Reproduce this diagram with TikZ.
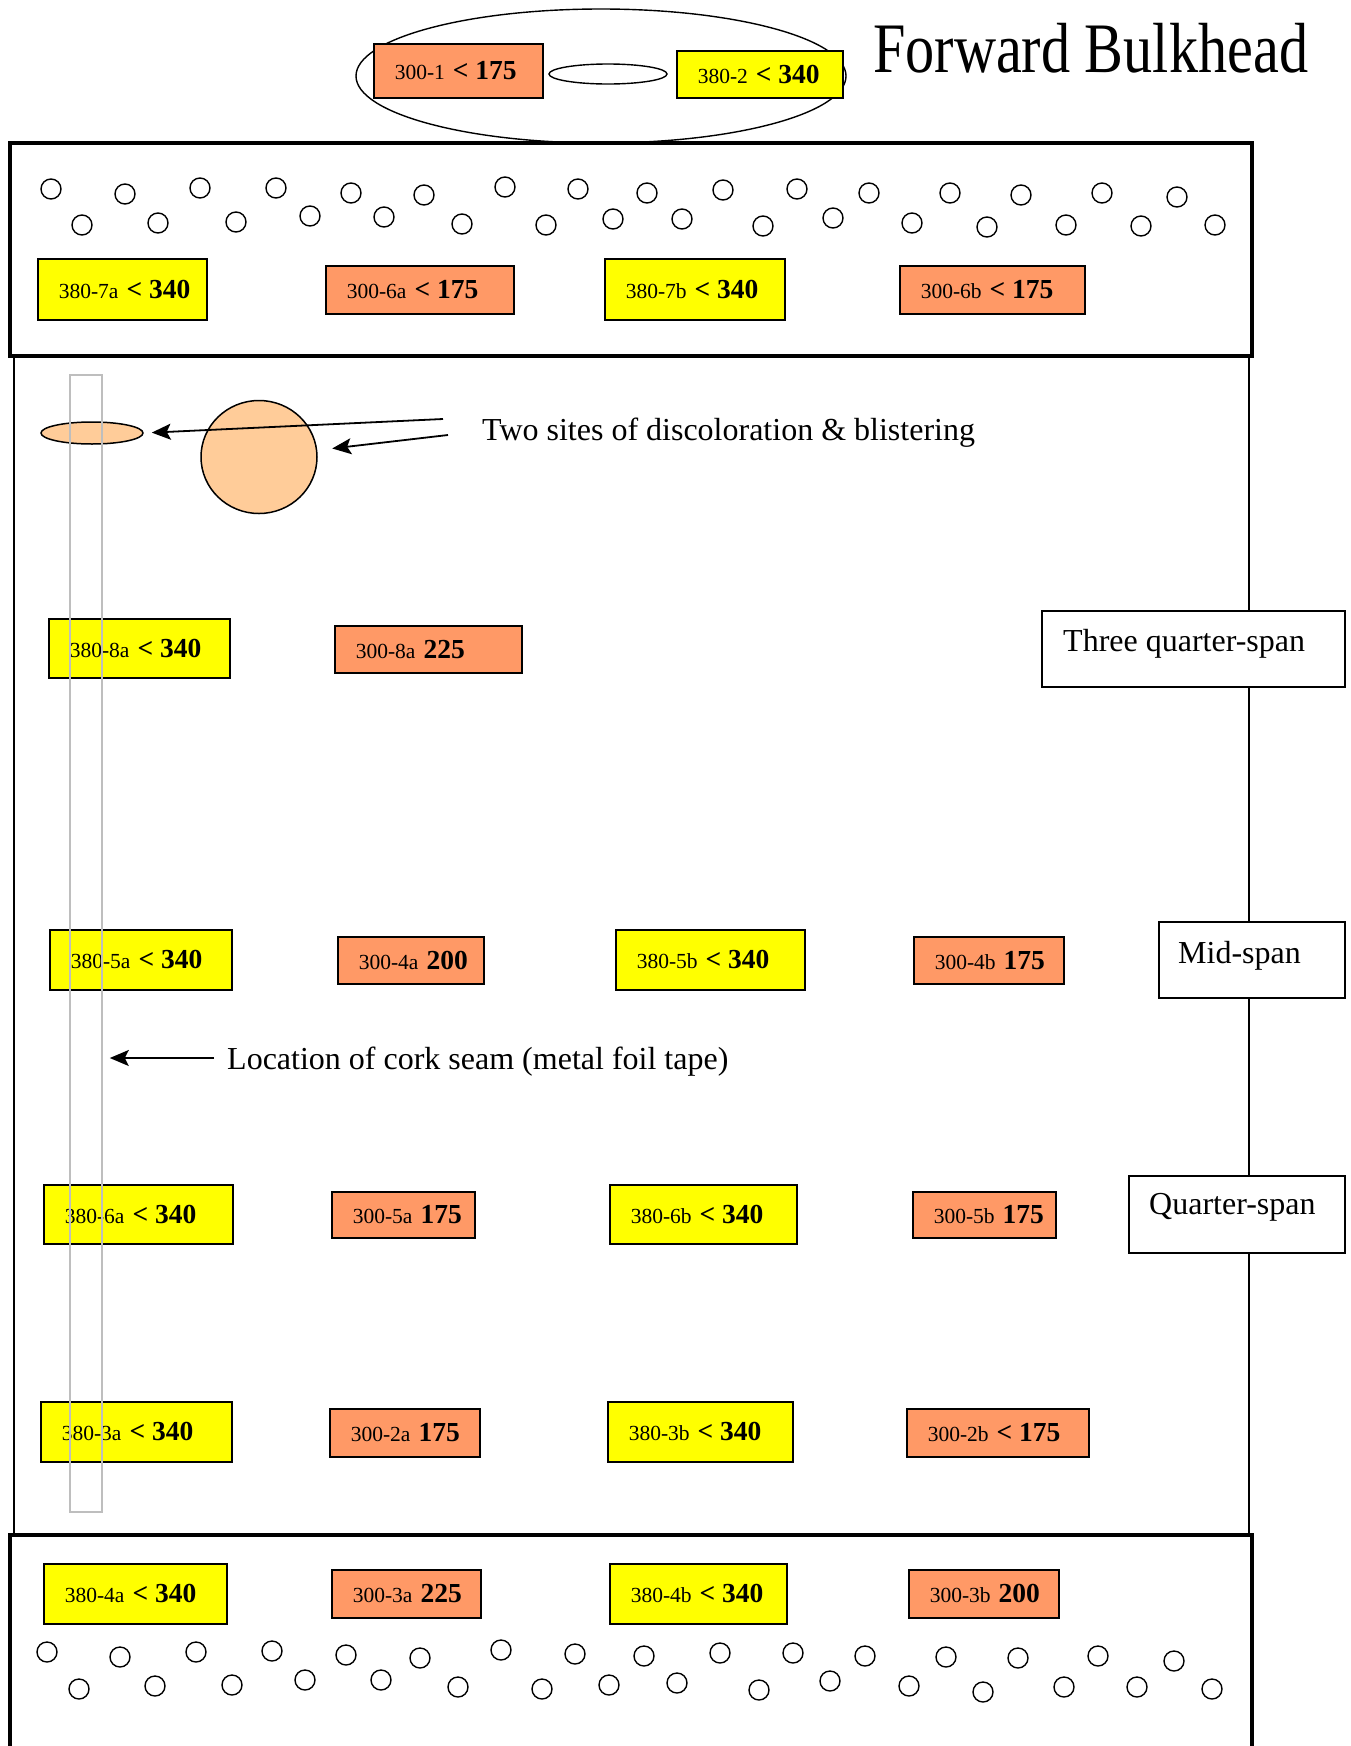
\documentclass[tikz,border=0pt]{standalone}
\usepackage{fontspec}
\setmainfont{Liberation Serif}
\newfontfamily\condserif[FakeStretch=0.82]{Liberation Serif}
\usetikzlibrary{arrows.meta,positioning,calc,shapes.geometric}
\definecolor{gauyellow}{RGB}{255,255,0}
\definecolor{gauorange}{RGB}{255,153,102}
\definecolor{blisterfill}{RGB}{255,204,153}
\definecolor{seamgray}{RGB}{190,190,190}
% gauge label: box width, station id, then reading in bold (set flush left)
\newcommand{\gauge}[3]{\makebox[#1][l]{\hspace{21pt}{\fontsize{21.5}{24}\selectfont #2}\hspace{8pt}{\fontsize{27.5}{30}\selectfont\bfseries #3}}}

\begin{document}
\begin{tikzpicture}[
  x=1pt, y=-1pt,
  gy/.style={rectangle, draw, line width=1.6pt, fill=gauyellow, inner sep=0pt, anchor=north west},
  go/.style={rectangle, draw, line width=1.6pt, fill=gauorange, inner sep=0pt, anchor=north west},
  hole/.style={circle, draw, line width=1.4pt, minimum size=20pt, inner sep=0pt},
  spanbox/.style={rectangle, draw, line width=1.5pt, fill=white, inner sep=0pt, anchor=north west},
  note/.style={font=\fontsize{32}{36}\selectfont, inner sep=0pt, anchor=base west},
  blister/.style={ellipse, draw, line width=1.5pt, fill=blisterfill, inner sep=0pt},
  frame/.style={line width=3.5pt},
  wall/.style={line width=1.8pt},
  ptr/.style={-{Stealth[length=19pt,width=16pt,inset=4pt]}, line width=1.8pt}
]
\useasboundingbox (0,0) rectangle (1351,1746);

% Forward bulkhead plate
\draw[line width=1.4pt] (601,76) ellipse [x radius=245, y radius=67];
\draw[line width=1.4pt] (608,74) ellipse [x radius=59, y radius=10];
\node[go, minimum width=169pt, minimum height=54pt] (g301) at (373,43) {\gauge{169pt}{300-1}{< 175}};
\node[gy, minimum width=166pt, minimum height=47pt] (g382) at (676,50) {\gauge{166pt}{380-2}{< 340}};
\node[anchor=base west, inner sep=0pt, font=\condserif\fontsize{71}{80}\selectfont] (title) at (873,72) {Forward Bulkhead};

% Tank walls
\draw[wall] (14,356) -- (14,1535);
\draw[wall] (1249,356) -- (1249,1535);
\draw[frame] (10,143) rectangle (1252,356);
\draw[frame] (10,1752) -- (10,1535) -- (1252,1535) -- (1252,1752);

% Fastener holes, forward ring
\foreach \hx/\hy [count=\i] in {51/189,125/194,200/188,276/188,351/193,424/195,505/187,578/189,
    647/193,723/190,797/189,869/193,950/193,1021/195,1102/193,1177/197,
    82/225,158/223,236/222,310/216,384/217,462/224,546/225,613/219,
    682/219,763/226,833/218,912/223,987/227,1066/225,1141/226,1215/225}
  \node[hole] (hf\i) at (\hx,\hy) {};

% Fastener holes, aft ring
\foreach \hx/\hy [count=\i] in {47/1652,120/1657,196/1652,272/1651,346/1655,420/1658,501/1650,575/1654,
    644/1656,720/1653,793/1653,865/1656,946/1657,1018/1658,1098/1656,1174/1661,
    79/1689,155/1686,232/1685,305/1680,381/1680,458/1687,542/1689,609/1685,
    677/1683,759/1690,830/1681,909/1686,983/1692,1064/1687,1137/1687,1212/1689}
  \node[hole] (ha\i) at (\hx,\hy) {};

% Forward ring gauges
\node[gy, minimum width=169pt, minimum height=61pt] (g387a) at (37,258) {\gauge{169pt}{380-7a}{< 340}};
\node[go, minimum width=188pt, minimum height=48pt] (g306a) at (325,265) {\gauge{188pt}{300-6a}{< 175}};
\node[gy, minimum width=180pt, minimum height=61pt] (g387b) at (604,258) {\gauge{180pt}{380-7b}{< 340}};
\node[go, minimum width=185pt, minimum height=48pt] (g306b) at (899,265) {\gauge{185pt}{300-6b}{< 175}};

% Three quarter-span
\node[gy, minimum width=181pt, minimum height=59pt] (g388a) at (48,618) {\gauge{181pt}{380-8a}{< 340}};
\node[go, minimum width=187pt, minimum height=47pt] (g308a) at (334,625) {\gauge{187pt}{300-8a}{225}};
\node[spanbox, minimum width=303pt, minimum height=76pt] (tqspan) at (1041,610) {};
\node[note] (tqtext) at (1063,651) {Three quarter-span};

% Mid-span
\node[gy, minimum width=182pt, minimum height=60pt] (g385a) at (49,929) {\gauge{182pt}{380-5a}{< 340}};
\node[go, minimum width=146pt, minimum height=47pt] (g304a) at (337,936) {\gauge{146pt}{300-4a}{200}};
\node[gy, minimum width=189pt, minimum height=60pt] (g385b) at (615,929) {\gauge{189pt}{380-5b}{< 340}};
\node[go, minimum width=150pt, minimum height=47pt] (g304b) at (913,936) {\gauge{150pt}{300-4b}{175}};
\node[spanbox, minimum width=186pt, minimum height=76pt] (midspan) at (1158,921) {};
\node[note] (midtext) at (1178,963) {Mid-span};

% Quarter-span
\node[gy, minimum width=189pt, minimum height=59pt] (g386a) at (43,1184) {\gauge{189pt}{380-6a}{< 340}};
\node[go, minimum width=143pt, minimum height=46pt] (g305a) at (331,1191) {\gauge{143pt}{300-5a}{175}};
\node[gy, minimum width=187pt, minimum height=59pt] (g386b) at (609,1184) {\gauge{187pt}{380-6b}{< 340}};
\node[go, minimum width=143pt, minimum height=46pt] (g305b) at (912,1191) {\gauge{143pt}{300-5b}{175}};
\node[spanbox, minimum width=216pt, minimum height=77pt] (qspan) at (1128,1175) {};
\node[note] (qtext) at (1149,1214) {Quarter-span};

% Aft gauges
\node[gy, minimum width=191pt, minimum height=60pt] (g383a) at (40,1401) {\gauge{191pt}{380-3a}{< 340}};
\node[go, minimum width=150pt, minimum height=48pt] (g302a) at (329,1408) {\gauge{150pt}{300-2a}{175}};
\node[gy, minimum width=185pt, minimum height=60pt] (g383b) at (607,1401) {\gauge{185pt}{380-3b}{< 340}};
\node[go, minimum width=182pt, minimum height=48pt] (g302b) at (906,1408) {\gauge{182pt}{300-2b}{< 175}};

% Aft ring gauges
\node[gy, minimum width=183pt, minimum height=60pt] (g384a) at (43,1563) {\gauge{183pt}{380-4a}{< 340}};
\node[go, minimum width=149pt, minimum height=48pt] (g303a) at (331,1569) {\gauge{149pt}{300-3a}{225}};
\node[gy, minimum width=177pt, minimum height=60pt] (g384b) at (609,1563) {\gauge{177pt}{380-4b}{< 340}};
\node[go, minimum width=150pt, minimum height=48pt] (g303b) at (908,1569) {\gauge{150pt}{300-3b}{200}};

% Blistering
\node[blister, minimum width=102pt, minimum height=22pt] (blisterA) at (92,433) {};
\node[blister, minimum width=116pt, minimum height=113pt] (blisterB) at (259,457) {};
\node[note] (sites) at (482,440) {Two sites of discoloration \& blistering};
\coordinate (ptA) at (443,419);
\coordinate (ptB) at (448,435);
\draw[ptr, shorten >=8pt] (ptA) -- (blisterA.east);
\draw[ptr, shorten >=15pt] (ptB) -- (blisterB);

% Cork seam (metal foil tape)
\node[draw=seamgray, line width=1.8pt, minimum width=32pt, minimum height=1137pt, inner sep=0pt, anchor=north west] (seam) at (69,374) {};
\node[note] (seamtext) at (227,1069) {Location of cork seam (metal foil tape)};
\coordinate (ptC) at (214,1058);
\draw[ptr, shorten >=7pt] (ptC) -- (ptC -| seam.east);
\end{tikzpicture}
\end{document}
